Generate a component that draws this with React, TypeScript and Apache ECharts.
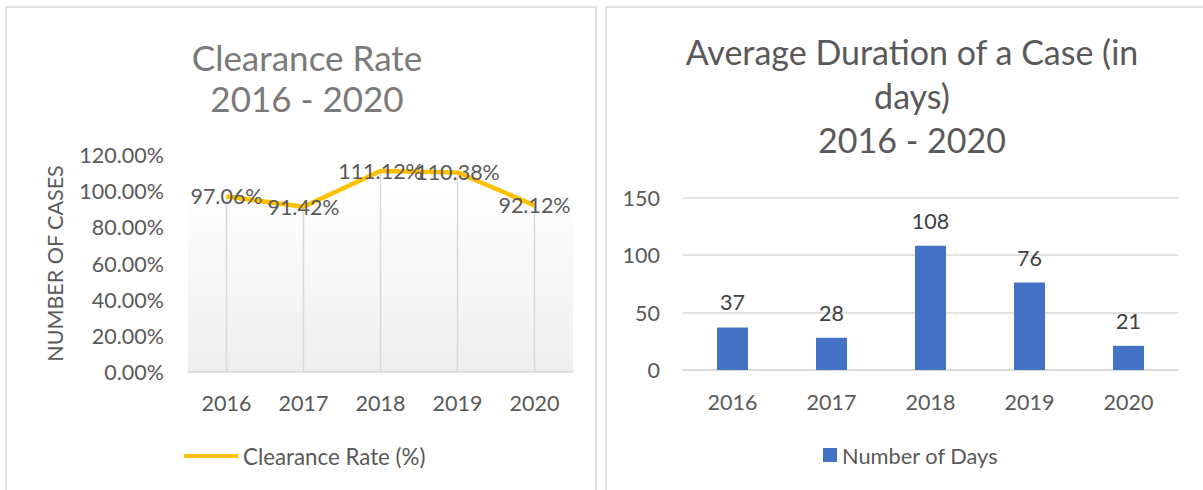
import React, { useEffect, useRef } from "react";
import * as echarts from "echarts";

const years = ["2016", "2017", "2018", "2019", "2020"];
const clearanceRate = [97.06, 91.42, 111.12, 110.38, 92.12];
const durationDays = [37, 28, 108, 76, 21];
const leftTitle = "Clearance Rate\n2016 - 2020";
const rightTitle = "Average Duration of a Case (in\ndays)\n2016 - 2020";
const leftSeriesName = "Clearance Rate (%)";
const rightSeriesName = "Number of Days";
const leftAxisName = "NUMBER OF CASES";

const FONT = "Lato";

export default function App() {
  const ref = useRef<HTMLDivElement>(null);
  useEffect(() => {
    document.body.style.margin = "0";
    const chart = echarts.init(ref.current!, null, { renderer: "svg" });
    const axisLabel = { color: "#595959", fontSize: 21.5, fontFamily: FONT };
    chart.setOption({
      animation: false,
      backgroundColor: "#ffffff",
      graphic: [
        {
          type: "rect",
          shape: { x: 6, y: 7, width: 590, height: 520 },
          style: { fill: "none", stroke: "#d9d9d9", lineWidth: 1.5 },
          silent: true,
        },
        {
          type: "rect",
          shape: { x: 606, y: 7, width: 700, height: 520 },
          style: { fill: "none", stroke: "#d9d9d9", lineWidth: 1.5 },
          silent: true,
        },
      ],
      title: [
        {
          text: leftTitle,
          left: 302,
          top: 31,
          textAlign: "center",
          textStyle: { color: "#7a7a7a", fontSize: 35, fontWeight: "normal", fontFamily: FONT, lineHeight: 41 },
        },
        {
          text: rightTitle,
          left: 907,
          top: 24,
          textAlign: "center",
          textStyle: { color: "#595959", fontSize: 34, fontWeight: "normal", fontFamily: FONT, lineHeight: 44 },
        },
      ],
      legend: [
        {
          data: [leftSeriesName],
          left: 184,
          top: 444,
          padding: 0,
          icon: "rect",
          itemWidth: 54,
          itemHeight: 4,
          textStyle: { color: "#595959", fontSize: 22.3, fontFamily: FONT, lineHeight: 24 },
        },
        {
          data: [rightSeriesName],
          left: 823,
          top: 443,
          padding: 0,
          icon: "rect",
          itemWidth: 14,
          itemHeight: 14,
          textStyle: { color: "#595959", fontSize: 21.8, fontFamily: FONT, lineHeight: 24 },
        },
      ],
      grid: [
        {
          left: 188,
          top: 155,
          width: 385,
          height: 217,
          show: true,
          borderWidth: 0,
          backgroundColor: {
            type: "linear",
            x: 0,
            y: 0,
            x2: 0,
            y2: 1,
            colorStops: [
              { offset: 0, color: "#ffffff" },
              { offset: 0.15, color: "#ffffff" },
              { offset: 1, color: "#eeeeee" },
            ],
          },
        },
        { left: 683, top: 197.5, width: 495, height: 172.5 },
      ],
      xAxis: [
        {
          type: "category",
          gridIndex: 0,
          data: years,
          axisLine: { lineStyle: { color: "#d9d9d9", width: 1.5 } },
          axisTick: { show: false },
          axisLabel: { ...axisLabel, margin: 20 },
        },
        {
          type: "category",
          gridIndex: 1,
          data: years,
          axisLine: { lineStyle: { color: "#d9d9d9", width: 1.5 } },
          axisTick: { show: false },
          axisLabel: { ...axisLabel, margin: 21 },
        },
      ],
      yAxis: [
        {
          type: "value",
          gridIndex: 0,
          min: 0,
          max: 120,
          interval: 20,
          name: leftAxisName,
          nameLocation: "middle",
          nameGap: 122,
          nameTextStyle: { color: "#595959", fontSize: 21.5, fontFamily: FONT },
          axisLine: { show: false },
          axisTick: { show: false },
          splitLine: { show: false },
          axisLabel: { ...axisLabel, margin: 24, formatter: (v: number) => v.toFixed(2) + "%" },
        },
        {
          type: "value",
          gridIndex: 1,
          min: 0,
          max: 150,
          interval: 50,
          axisLine: { show: false },
          axisTick: { show: false },
          splitLine: { lineStyle: { color: "#d9d9d9", width: 1.5 } },
          axisLabel: { ...axisLabel, margin: 23 },
        },
      ],
      series: [
        {
          name: "dropLines",
          type: "bar",
          xAxisIndex: 0,
          yAxisIndex: 0,
          data: clearanceRate,
          barWidth: 1.5,
          silent: true,
          itemStyle: { color: "#d9d9d9" },
          z: 1,
        },
        {
          name: leftSeriesName,
          type: "line",
          xAxisIndex: 0,
          yAxisIndex: 0,
          data: clearanceRate,
          symbol: "circle",
          symbolSize: 1,
          lineStyle: { color: "#FFC000", width: 4.5 },
          itemStyle: { color: "#FFC000" },
          z: 3,
          label: {
            show: true,
            position: "inside",
            color: "#595959",
            fontSize: 21.5,
            fontFamily: FONT,
            formatter: (p: any) => p.value.toFixed(2) + "%",
          },
        },
        {
          name: rightSeriesName,
          type: "bar",
          xAxisIndex: 1,
          yAxisIndex: 1,
          data: durationDays,
          barWidth: 31,
          itemStyle: { color: "#4472C4" },
          label: {
            show: true,
            position: "top",
            distance: 14,
            color: "#404040",
            fontSize: 21.5,
            fontFamily: FONT,
          },
        },
      ],
    });
    return () => chart.dispose();
  }, []);
  return <div ref={ref} style={{ width: 1203, height: 490 }} />;
}
